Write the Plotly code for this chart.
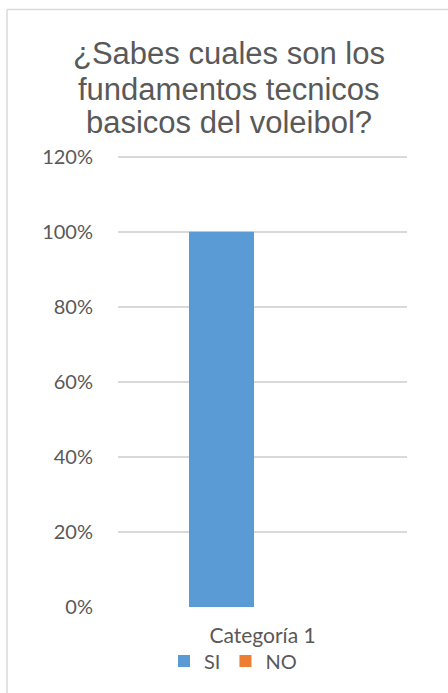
import plotly.graph_objects as go

categories = ["Categoría 1"]
series_names = ["SI", "NO"]
si_values = [1.00]
no_values = [0.00]
title_lines = ["¿Sabes cuales son los", "fundamentos tecnicos", "basicos del voleibol?"]
y_ticks = [0, 0.2, 0.4, 0.6, 0.8, 1.0, 1.2]
y_tick_labels = ["0%", "20%", "40%", "60%", "80%", "100%", "120%"]

W, H = 448, 693
L, R, T, B = 118, 41, 153, 86
pw, ph = W - L - R, H - T - B

def px_x(p):
    return (p - L) / pw

def px_y(p):
    return (H - B - p) / ph

text_col = "#595959"
grid_col = "#d9d9d9"

fig = go.Figure()
fig.add_trace(go.Bar(name=series_names[0], x=categories, y=si_values, marker_color="#5b9bd5",
                     marker_line_width=0))
fig.add_trace(go.Bar(name=series_names[1], x=categories, y=no_values, marker_color="#ed7d31",
                     marker_line_width=0))

annotations = []
for line, yc in zip(title_lines, [54, 89, 123]):
    annotations.append(dict(text=line, xref="paper", yref="paper", x=px_x(W / 2 + 5), y=px_y(yc),
                            xanchor="center", yanchor="middle", showarrow=False,
                            font=dict(family="Liberation Sans, Arial", size=31, color=text_col)))

shapes = [
    dict(type="line", xref="paper", yref="paper", x0=px_x(7), x1=px_x(W + 5), y0=px_y(9.5), y1=px_y(9.5),
         line=dict(color=grid_col, width=1.5)),
    dict(type="line", xref="paper", yref="paper", x0=px_x(7), x1=px_x(7), y0=px_y(9.5), y1=px_y(H + 5),
         line=dict(color=grid_col, width=1.5)),
]

fig.update_layout(
    width=W, height=H,
    margin=dict(l=L, r=R, t=T, b=B),
    paper_bgcolor="white", plot_bgcolor="white",
    barmode="group", bargap=0.4325, bargroupgap=0.207,
    font=dict(family="Lato, Carlito, Calibri, sans-serif", size=20, color=text_col),
    showlegend=True,
    legend=dict(orientation="h", x=px_x(233), xanchor="center", y=px_y(661), yanchor="middle",
                font=dict(size=20, color=text_col), itemwidth=30, tracegroupgap=0,
                bgcolor="rgba(0,0,0,0)"),
    annotations=annotations,
    shapes=shapes,
    xaxis=dict(showgrid=False, showline=False, zeroline=False, ticks="",
               ticklabelstandoff=14, tickfont=dict(size=21, color=text_col)),
    yaxis=dict(range=[0, 1.21], tickvals=y_ticks, ticktext=y_tick_labels,
               showgrid=True, gridcolor=grid_col, gridwidth=1.5, zeroline=False,
               showline=False, ticks="", ticklabelstandoff=24,
               tickfont=dict(size=20, color=text_col)),
)

fig.write_html("out.html", config={"displayModeBar": False},
               post_script="document.body.style.margin='0';")
